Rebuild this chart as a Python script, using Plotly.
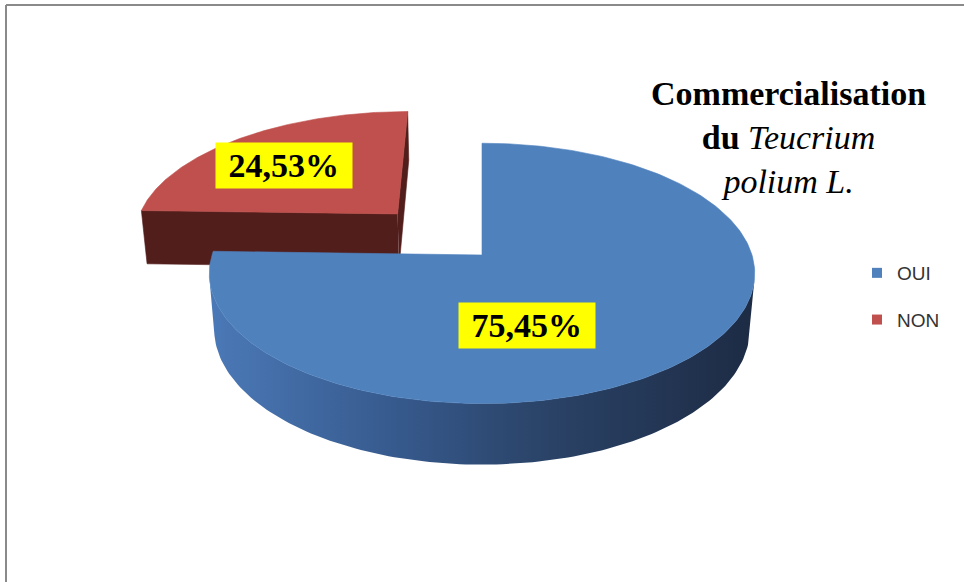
import numpy as np
import plotly.graph_objects as go

# ---- data ----
categories = ["OUI", "NON"]
shares = [75.45, 24.53]

# ---- styling ----
top_colors = ["#4f81bd", "#c0504d"]
radial_colors = ["#2a4268", "#521e1c"]
side_scales = [
    [[0.0, "#4b79b7"], [0.35, "#36598c"], [0.6, "#2b4469"], [1.0, "#1d2b44"]],
    [[0.0, "#7a2d2a"], [1.0, "#4a1a18"]],
]
explode = [0.0, 0.47]
label_pos = [(527, 325), (284, 165)]

# ---- simple perspective camera for the 3D pie ----
ELEV = np.radians(28.2)
DIST = 6.23
THICK = 0.236
SCALE = 1682.0
OX, OY = 482.0, 255.0
S, C = np.sin(ELEV), np.cos(ELEV)
CAM = np.array([0.0, DIST * S, -DIST * C])


def project(X, Y, Z):
    X, Y, Z = np.asarray(X, float), np.asarray(Y, float), np.asarray(Z, float)
    depth = DIST - Y * S + Z * C
    sx = X / depth
    sy = (Y * C + Z * S) / depth
    return OX + SCALE * sx, OY - SCALE * sy


total = sum(shares)
fracs = [v / total for v in shares]

# slices run clockwise starting at 12 o'clock
slices = []
cum = 0.0
for i, f in enumerate(fracs):
    a1 = np.pi / 2 - 2 * np.pi * cum
    a0 = np.pi / 2 - 2 * np.pi * (cum + f)
    cum += f
    mid = (a0 + a1) / 2
    ex, ez = explode[i] * np.cos(mid), explode[i] * np.sin(mid)
    slices.append(dict(i=i, a0=a0, a1=a1, ex=ex, ez=ez))

fig = go.Figure()


def add_poly(xs, ys, color, gradient=None):
    kw = dict(x=list(xs), y=list(ys), mode="lines", fill="toself",
              line=dict(width=0.6, color=color), hoverinfo="skip",
              showlegend=False)
    if gradient is not None:
        kw["fillgradient"] = dict(type="horizontal", colorscale=gradient)
        kw["line"] = dict(width=0)
    else:
        kw["fillcolor"] = color
    fig.add_trace(go.Scatter(**kw))


# paint far slices first
for sl in sorted(slices, key=lambda d: -d["ez"]):
    i, a0, a1, ex, ez = sl["i"], sl["a0"], sl["a1"], sl["ex"], sl["ez"]
    th = np.linspace(a0, a1, 240)

    # radial faces facing the camera
    for ang, n in ((a0, (np.sin(a0), -np.cos(a0))), (a1, (-np.sin(a1), np.cos(a1)))):
        dot = (CAM[0] - ex) * n[0] + (CAM[2] - ez) * n[1]
        if dot > 0:
            X = [ex, ex + np.cos(ang), ex + np.cos(ang), ex]
            Y = [0, 0, -THICK, -THICK]
            Z = [ez, ez + np.sin(ang), ez + np.sin(ang), ez]
            px, py = project(X, Y, Z)
            add_poly(px, py, radial_colors[i])

    # curved outer wall
    vis = -1 - ex * np.cos(th) - (DIST * C + ez) * np.sin(th) > 0
    if vis.any():
        t = th[vis]
        xt, yt = project(ex + np.cos(t), np.zeros_like(t), ez + np.sin(t))
        xb, yb = project(ex + np.cos(t), np.full_like(t, -THICK), ez + np.sin(t))
        add_poly(np.r_[xt, xb[::-1]], np.r_[yt, yb[::-1]], radial_colors[i],
                 gradient=side_scales[i])

    # top face
    X = np.r_[ex, ex + np.cos(th), ex]
    Z = np.r_[ez, ez + np.sin(th), ez]
    px, py = project(X, np.zeros_like(X), Z)
    add_poly(px, py, top_colors[i])

# legend entries
for i, name in enumerate(categories):
    fig.add_trace(go.Scatter(
        x=[None], y=[None], mode="markers", name=name,
        legendgroup=name,
        marker=dict(symbol="square", size=10, color=top_colors[i]),
    ))

# value labels
annotations = []
for i, v in enumerate(shares):
    txt = "&nbsp;" + f"{v:.2f}".replace(".", ",") + "%&nbsp;"
    x, y = label_pos[i]
    annotations.append(dict(
        x=x, y=y, xref="x", yref="y", text=f"<b>{txt}</b>", showarrow=False,
        font=dict(family="Liberation Serif", size=34, color="black"),
        bgcolor="#ffff00", borderpad=4,
    ))

# chart title
annotations.append(dict(
    x=788, y=137, xref="x", yref="y", yanchor="middle",
    text="<b>Commercialisation</b><br><b>du</b> <i>Teucrium</i><br><i>polium L.</i>",
    showarrow=False, align="center",
    font=dict(family="Liberation Serif", size=34, color="black"),
))

fig.update_layout(
    width=964, height=582,
    margin=dict(l=0, r=0, t=0, b=0),
    paper_bgcolor="white", plot_bgcolor="white",
    xaxis=dict(range=[0, 964], visible=False, fixedrange=True),
    yaxis=dict(range=[582, 0], visible=False, fixedrange=True),
    annotations=annotations,
    legend=dict(
        x=857 / 964, y=1 - 254 / 582, xanchor="left", yanchor="top",
        font=dict(family="Liberation Sans", size=19, color="#333333"),
        tracegroupgap=19, bgcolor="rgba(0,0,0,0)",
    ),
    shapes=[
        dict(type="line", xref="x", yref="y", x0=6, y0=5, x1=964, y1=5,
             line=dict(color="#8a8a8a", width=2)),
        dict(type="line", xref="x", yref="y", x0=6, y0=5, x1=6, y1=582,
             line=dict(color="#8a8a8a", width=2)),
    ],
)

fig.write_html("out.html")
